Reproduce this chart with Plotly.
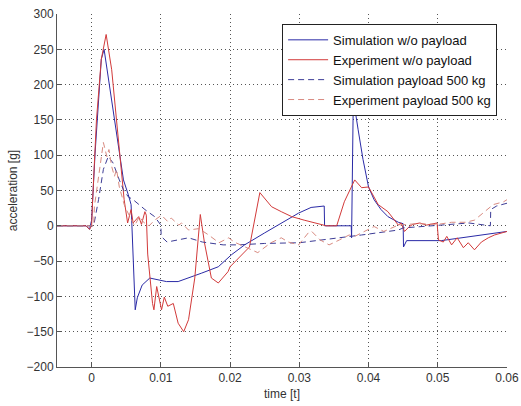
import plotly.graph_objects as go

# Simulation w/o payload (blue solid)
sim_t = [-0.005, -0.0008, -0.0003, 0.0, 0.0005, 0.001, 0.0014, 0.0018, 0.0033, 0.0046, 0.0053, 0.0057,
         0.0063, 0.0066, 0.0073, 0.0084, 0.0108, 0.0125, 0.0159, 0.0183, 0.0202, 0.0221, 0.025, 0.0279,
         0.0299, 0.0317, 0.0336, 0.03365, 0.0375, 0.03755, 0.0378, 0.0385, 0.0392, 0.040, 0.0408,
         0.0418, 0.0428, 0.0443, 0.045, 0.04505, 0.0455, 0.0505, 0.06]
sim_a = [0, 0, -5, 8, 103, 175, 236, 250, 150, 65, 44, 30,
         -119, -102, -84, -74, -79, -79, -67, -58, -41, -27, -10, 6,
         18, 26, 28, 0, 0, -17, 180, 136, 94, 55, 37,
         23, 13, 5, 3, -30, -21, -21, -8]

# Experiment w/o payload (red solid)
exp_t = [-0.005, -0.0008, -0.0003, 0.0, 0.00015, 0.0007, 0.0014, 0.0021, 0.0029, 0.004, 0.0047, 0.0052,
         0.0057, 0.006, 0.0068, 0.0072, 0.0077, 0.0079, 0.0081, 0.0088, 0.009, 0.0094, 0.0101, 0.0105,
         0.011, 0.0118, 0.0125, 0.0133, 0.014, 0.0149, 0.0154, 0.0157, 0.0163, 0.0173, 0.0183, 0.0197,
         0.020, 0.0214, 0.0228, 0.0243, 0.026, 0.0274, 0.0289, 0.0307, 0.0325, 0.0339, 0.0354, 0.0365,
         0.038, 0.039, 0.040, 0.0414, 0.0428, 0.0443, 0.0447, 0.0452, 0.0459, 0.0464, 0.0474, 0.0484,
         0.0499, 0.0501, 0.0508, 0.0513, 0.052, 0.0528, 0.0537, 0.0544, 0.0553, 0.0563, 0.0573, 0.0582, 0.06]
exp_a = [0, 0, -5, 0, 37, 150, 236, 271, 221, 103, 37, 4,
         23, 4, 13, 2, 20, 15, -40, -110, -119, -86, -119, -101,
         -114, -110, -138, -150, -133, -74, -20, 16, -24, -74, -81, -65,
         -58, -44, -30, 47, 27, 20, 13, 8, 4, 0, 0, 34,
         65, 54, 55, 30, 20, 1, 4, -8, -1, 2, 4, 1,
         4, -20, -23, -15, -27, -17, -31, -24, -34, -23, -17, -13, -8]

# Simulation payload 500 kg (blue dashed)
simp_t = [-0.005, 0.0003, 0.001, 0.0017, 0.0024, 0.0031, 0.004, 0.0046, 0.0053, 0.006, 0.0077, 0.0091,
          0.010, 0.01005, 0.0109, 0.014, 0.016, 0.019, 0.0212, 0.025, 0.03, 0.0336, 0.039, 0.0443,
          0.045, 0.0505, 0.0545, 0.0576, 0.05765, 0.0585, 0.06]
simp_a = [0, 0, 37, 80, 98, 89, 65, 51, 41, 37, 23, 13,
          1, -15, -23, -17, -23, -27, -27, -25, -24, -20, -13, -6,
          -3, 1, 4, 0, 23, 28, 32]

# Experiment payload 500 kg (red dashed)
expp_t = [-0.005, 0.0003, 0.0004, 0.0017, 0.0022, 0.0025, 0.0029, 0.0033, 0.0036, 0.004, 0.0048, 0.0055,
          0.0062, 0.0069, 0.0075, 0.0083, 0.0091, 0.0101, 0.011, 0.0115, 0.0126, 0.013, 0.014, 0.0155,
          0.0169, 0.0184, 0.0198, 0.0206, 0.0221, 0.023, 0.024, 0.0259, 0.0274, 0.0284, 0.0299, 0.0313,
          0.0318, 0.033, 0.0343, 0.0358, 0.0372, 0.038, 0.0408, 0.0422, 0.0443, 0.047, 0.05, 0.052,
          0.054, 0.0553, 0.058, 0.0595, 0.06]
expp_a = [0, 0, 27, 118, 98, 108, 84, 70, 80, 55, 27, 13,
          0, 13, 5, 0, 8, 15, 6, 11, 1, 4, -6, -4,
          -13, -24, -17, -23, -30, -34, -38, -24, -17, -23, -27, -10,
          -8, -20, -27, -20, -13, -15, -1, -8, 1, 3, 2, 5,
          5, 8, 30, 34, 37]

x_ticks = [0, 0.01, 0.02, 0.03, 0.04, 0.05, 0.06]
x_labels = ["0", "0.01", "0.02", "0.03", "0.04", "0.05", "0.06"]
y_ticks = [-200, -150, -100, -50, 0, 50, 100, 150, 200, 250, 300]

FONT = "Liberation Sans, Arial"

fig = go.Figure()
fig.add_trace(go.Scatter(x=sim_t, y=sim_a, mode="lines", name="Simulation w/o payload",
                         line=dict(color="#2a2aa6", width=1)))
fig.add_trace(go.Scatter(x=exp_t, y=exp_a, mode="lines", name="Experiment w/o payload",
                         line=dict(color="#d23a3a", width=1)))
fig.add_trace(go.Scatter(x=simp_t, y=simp_a, mode="lines", name="Simulation payload 500 kg",
                         line=dict(color="#3c3c96", width=1, dash="6px,4px")))
fig.add_trace(go.Scatter(x=expp_t, y=expp_a, mode="lines", name="Experiment payload 500 kg",
                         line=dict(color="#d88a80", width=1, dash="6px,4px")))

axis_common = dict(showline=True, linecolor="#555", linewidth=1, mirror=False,
                   ticks="inside", ticklen=4, tickcolor="#555", automargin=False,
                   showgrid=True, gridcolor="#555", griddash="1px,3px", gridwidth=1,
                   zeroline=False, tickfont=dict(family=FONT, size=12, color="#333"))

fig.update_xaxes(range=[-0.005, 0.06], tickvals=x_ticks, ticktext=x_labels,
                 title=dict(text="time [t]", font=dict(family=FONT, size=12, color="#333"),
                            standoff=5),
                 **axis_common)
fig.update_yaxes(range=[-200, 300], tickvals=y_ticks,
                 title=dict(text="acceleration [g]", font=dict(family=FONT, size=12, color="#333"),
                            standoff=6),
                 **axis_common)

fig.update_layout(
    width=521, height=406,
    margin=dict(l=57, r=14, t=14, b=39, autoexpand=False),
    paper_bgcolor="white", plot_bgcolor="white",
    showlegend=True,
    legend=dict(x=0.978, y=0.972, xanchor="right", yanchor="top",
                bgcolor="white", bordercolor="#222", borderwidth=1,
                font=dict(family=FONT, size=13, color="#111"),
                tracegroupgap=0, itemwidth=40),
)

fig.write_html("out.html")
